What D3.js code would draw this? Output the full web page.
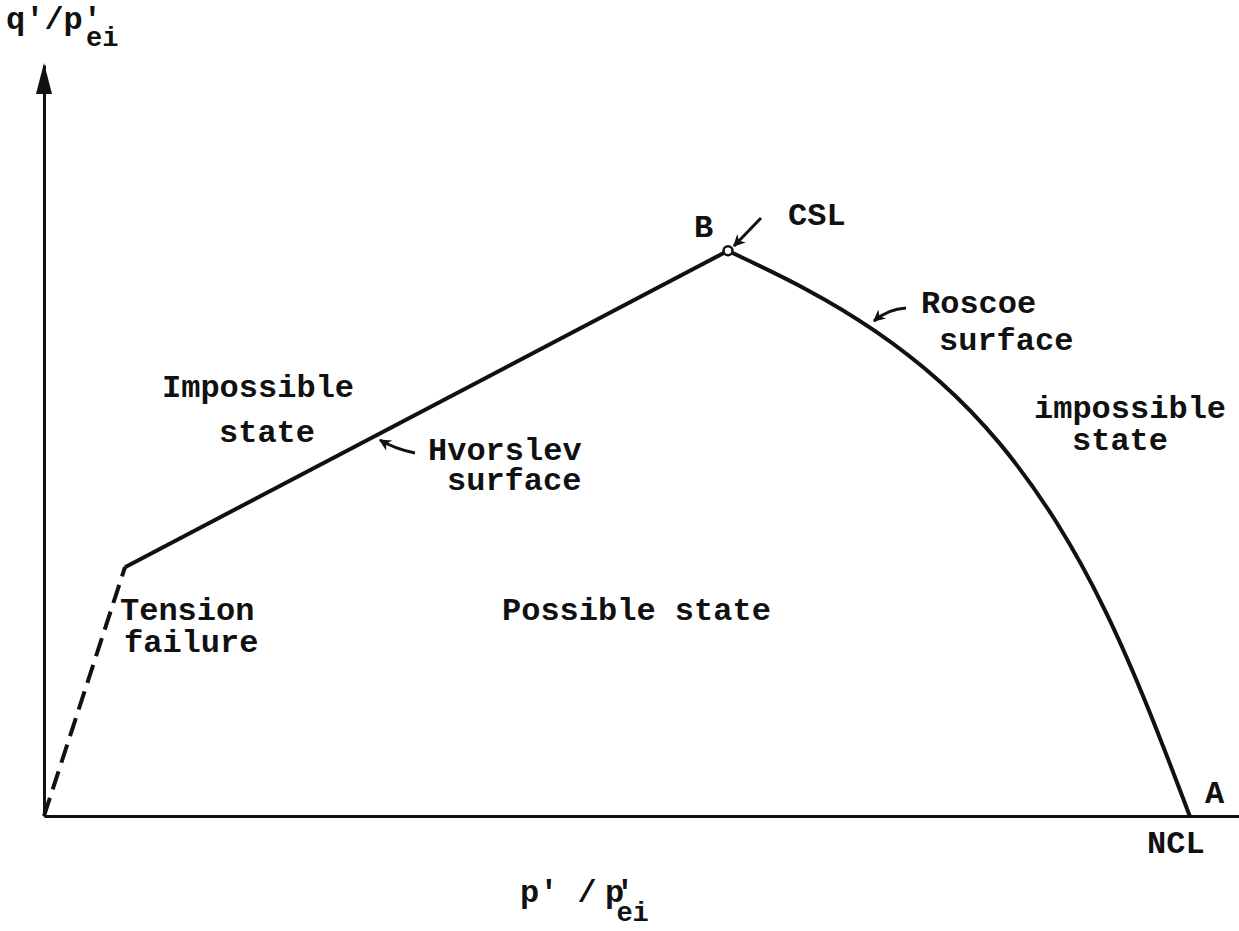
<!DOCTYPE html>
<html>
<head>
<meta charset="utf-8">
<script src="https://cdn.jsdelivr.net/npm/d3@7"></script>
<style>
  body { margin: 0; background: #fff; }
  svg text { font-family: "Liberation Mono", "DejaVu Sans Mono", monospace; font-weight: bold; fill: #111; }
</style>
</head>
<body>
<div id="chart"></div>
<script>
// normalised stresses p'/p'ei and q'/p'ei
var tensionP = [0, 0.0707];
var tensionQ = [0, 0.217];
var hvorslevP = [0.0707, 0.597];
var hvorslevQ = [0.217, 0.493];
var roscoeP = [0.597, 0.6684, 0.7260, 0.7827, 0.8340, 0.8845, 0.9275, 0.9650, 1.0];
var roscoeQ = [0.493, 0.4590, 0.4241, 0.3805, 0.3281, 0.2583, 0.1798, 0.0925, 0];
var pointB = {p: 0.597, q: 0.493};

var width = 1239, height = 931;
var chartMargin = {top: 65, right: 0, bottom: 115, left: 44};

var svg = d3.select("#chart").append("svg")
    .attr("width", width)
    .attr("height", height);

var x = d3.scaleLinear()
    .domain([0, 1.043])
    .range([chartMargin.left, width - chartMargin.right]);

var y = d3.scaleLinear()
    .domain([0, 0.655])
    .range([height - chartMargin.bottom, chartMargin.top]);

function pairs(ps, qs) {
    return ps.map(function(p, i) { return [p, qs[i]]; });
}

var line = d3.line()
    .x(function(d) { return x(d[0]); })
    .y(function(d) { return y(d[1]); });

// axes, no ticks
svg.append("g")
    .attr("transform", "translate(0," + y(0) + ")")
    .call(d3.axisBottom(x).ticks(0).tickSizeOuter(0))
    .select(".domain").attr("stroke", "#111").attr("stroke-width", 3);

svg.append("g")
    .attr("transform", "translate(" + x(0) + ",0)")
    .call(d3.axisLeft(y).ticks(0).tickSizeOuter(0))
    .select(".domain").attr("stroke", "#111").attr("stroke-width", 3);

// arrow head on q axis
var yTop = y.range()[1];
svg.append("path")
    .attr("d", "M" + x(0) + "," + (yTop - 2) +
        " L" + (x(0) + 8) + "," + (yTop + 29) +
        " L" + (x(0) - 8) + "," + (yTop + 29) + " Z")
    .attr("fill", "#111");

// tension cut-off
svg.append("path")
    .attr("d", line(pairs(tensionP, tensionQ)))
    .attr("fill", "none")
    .attr("stroke", "#111")
    .attr("stroke-width", 4)
    .attr("stroke-dasharray", "19,9");

// Hvorslev surface
svg.append("path")
    .attr("d", line(pairs(hvorslevP, hvorslevQ)))
    .attr("fill", "none")
    .attr("stroke", "#111")
    .attr("stroke-width", 4);

// Roscoe surface
svg.append("path")
    .attr("d", d3.line()
        .x(function(d) { return x(d[0]); })
        .y(function(d) { return y(d[1]); })
        .curve(d3.curveBasis)(pairs(roscoeP, roscoeQ)))
    .attr("fill", "none")
    .attr("stroke", "#111")
    .attr("stroke-width", 4);

// critical state point
svg.append("circle")
    .attr("cx", x(pointB.p))
    .attr("cy", y(pointB.q))
    .attr("r", 4.5)
    .attr("fill", "#fff")
    .attr("stroke", "#111")
    .attr("stroke-width", 2.5);

// annotation arrows
svg.append("defs").append("marker")
    .attr("id", "head")
    .attr("viewBox", "0 0 10 10")
    .attr("refX", 9)
    .attr("refY", 5)
    .attr("orient", "auto")
    .attr("markerUnits", "userSpaceOnUse")
    .attr("markerWidth", 14)
    .attr("markerHeight", 12)
  .append("path")
    .attr("d", "M0,0 L10,5 L0,10 L3,5 Z")
    .attr("fill", "#111");

var arrows = [
    "M761,218 L734,246",
    "M415,453 Q395,449 380,440",
    "M906,308 Q888,309 874,321"
];
svg.selectAll("path.note")
    .data(arrows)
    .enter()
    .append("path")
    .attr("class", "note")
    .attr("d", function(d) { return d; })
    .attr("fill", "none")
    .attr("stroke", "#111")
    .attr("stroke-width", 3)
    .attr("marker-end", "url(#head)");

// plain labels
var labels = [
    {t: "B", x: 694, y: 237},
    {t: "CSL", x: 788, y: 225},
    {t: "Roscoe", x: 921, y: 313},
    {t: "surface", x: 939, y: 350},
    {t: "Impossible", x: 162, y: 397},
    {t: "state", x: 219, y: 442},
    {t: "Hvorslev", x: 428, y: 460},
    {t: "surface", x: 447, y: 490},
    {t: "impossible", x: 1034, y: 418},
    {t: "state", x: 1072, y: 450},
    {t: "Tension", x: 120, y: 620},
    {t: "failure", x: 124, y: 652},
    {t: "Possible state", x: 502, y: 620},
    {t: "A", x: 1205, y: 803},
    {t: "NCL", x: 1147, y: 853}
];
svg.selectAll("text.lbl")
    .data(labels)
    .enter()
    .append("text")
    .attr("class", "lbl")
    .attr("x", function(d) { return d.x; })
    .attr("y", function(d) { return d.y; })
    .style("font-size", "32px")
    .text(function(d) { return d.t; });

// axis titles with stacked prime and subscript
var yTitle = svg.append("text")
    .attr("x", 6)
    .attr("y", 29)
    .style("font-size", "32px");
yTitle.append("tspan").text("q'/p'");
yTitle.append("tspan")
    .attr("dx", -16)
    .attr("dy", 17)
    .style("font-size", "27px")
    .text("ei");

var xTitle = svg.append("text")
    .attr("x", 520)
    .attr("y", 902)
    .style("font-size", "32px");
xTitle.append("tspan").text("p' /");
xTitle.append("tspan").attr("x", 605).text("p");
xTitle.append("tspan").attr("dx", -9).text("'");
xTitle.append("tspan")
    .attr("dx", -18)
    .attr("dy", 19)
    .style("font-size", "27px")
    .text("ei");
</script>
</body>
</html>
